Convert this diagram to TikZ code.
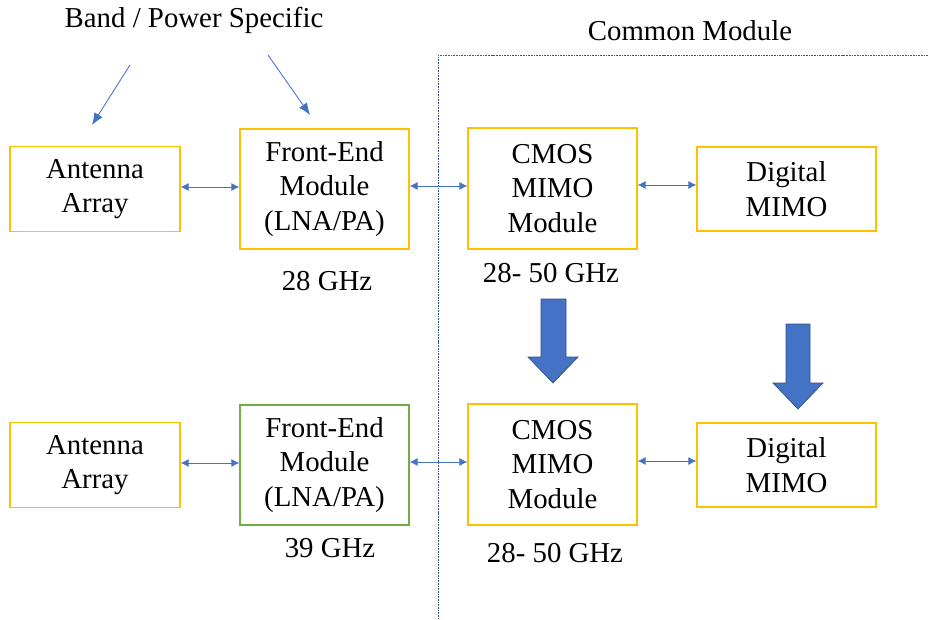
\documentclass[tikz,border=0pt]{standalone}
\usepackage{fontspec}
\setmainfont{Liberation Serif}
\usetikzlibrary{arrows.meta,positioning}
\definecolor{BoxOrange}{HTML}{FFC000}
\definecolor{BoxGreen}{HTML}{70AD47}
\definecolor{ArrBlue}{HTML}{4472C4}
\definecolor{LineNavy}{HTML}{2F5597}

\begin{document}
\begin{tikzpicture}[x=0.025cm, y=-0.025cm,
  blk/.style={draw=BoxOrange, line width=0.9pt, align=center, inner sep=2pt,
              font=\fontsize{20.5}{24.5}\selectfont},
  lbl/.style={font=\fontsize{20.5}{25}\selectfont, inner sep=0pt},
  link/.style={ArrBlue, line width=0.6pt, {Latex[length=2mm,width=2mm]}-{Latex[length=2mm,width=2mm]}},
  hint/.style={ArrBlue, line width=0.6pt, -{Latex[length=3mm,width=2.4mm]}},
  bigarr/.style={fill=ArrBlue, draw=ArrBlue!70!black, line width=0.5pt}]
  \useasboundingbox (0,0) rectangle (928,619);

  % top row
  \node[blk, minimum width=4.25cm, minimum height=2.125cm] (ant1) at (95,189) {Antenna\\Array};
  \node[blk, minimum width=4.225cm, minimum height=3cm] (fe1) at (324.5,189) {Front-End\\Module\\(LNA/PA)};
  \node[blk, minimum width=4.225cm, minimum height=3.025cm] (cm1) at (552.5,188.5) {CMOS\\MIMO\\Module};
  \node[blk, minimum width=4.475cm, minimum height=2.1cm] (dg1) at (786.5,189) {Digital\\MIMO};

  % bottom row
  \node[blk, minimum width=4.25cm, minimum height=2.125cm] (ant2) at (95,465) {Antenna\\Array};
  \node[blk, draw=BoxGreen, minimum width=4.225cm, minimum height=3cm] (fe2) at (324.5,465) {Front-End\\Module\\(LNA/PA)};
  \node[blk, minimum width=4.225cm, minimum height=3.025cm] (cm2) at (552.5,464.5) {CMOS\\MIMO\\Module};
  \node[blk, minimum width=4.475cm, minimum height=2.1cm] (dg2) at (786.5,465) {Digital\\MIMO};

  % labels
  \node[lbl] (band) at (194,20) {Band / Power Specific};
  \node[lbl] (common) at (690,31) {Common Module};
  \node[lbl] (f28) at (327,281) {28 GHz};
  \node[lbl] (f2850a) at (551,273) {28- 50 GHz};
  \node[lbl] (f39) at (330,548) {39 GHz};
  \node[lbl] (f2850b) at (555,553) {28- 50 GHz};

  % common module border
  \coordinate (cmtop) at (438,55);
  \draw[LineNavy, line width=0.7pt, dash pattern=on 1.2pt off 0.7pt] (928,55) -- (cmtop) -- (438,619);

  % links
  \draw[link] (ant1.east |- 0,187) -- (fe1.west |- 0,187);
  \draw[link] (fe1.east |- 0,186) -- (cm1.west |- 0,186);
  \draw[link] (cm1.east |- 0,185) -- (dg1.west |- 0,185);
  \draw[link] (ant2.east |- 0,463) -- (fe2.west |- 0,463);
  \draw[link] (fe2.east |- 0,462) -- (cm2.west |- 0,462);
  \draw[link] (cm2.east |- 0,461) -- (dg2.west |- 0,461);

  % band hints
  \coordinate (h1s) at (130,65);
  \coordinate (h1e) at (92,125);
  \coordinate (h2s) at (268,55);
  \coordinate (h2e) at (310,115);
  \draw[hint] (h1s) -- (h1e);
  \draw[hint] (h2s) -- (h2e);

  % block arrows
  \draw[bigarr] (541,299) -- (566,299) -- (566,357) -- (578,357) -- (553,383)
    -- (528,357) -- (541,357) -- cycle;
  \draw[bigarr] (786,324) -- (810,324) -- (810,383) -- (823,383) -- (798,409)
    -- (773,383) -- (786,383) -- cycle;
\end{tikzpicture}
\end{document}
